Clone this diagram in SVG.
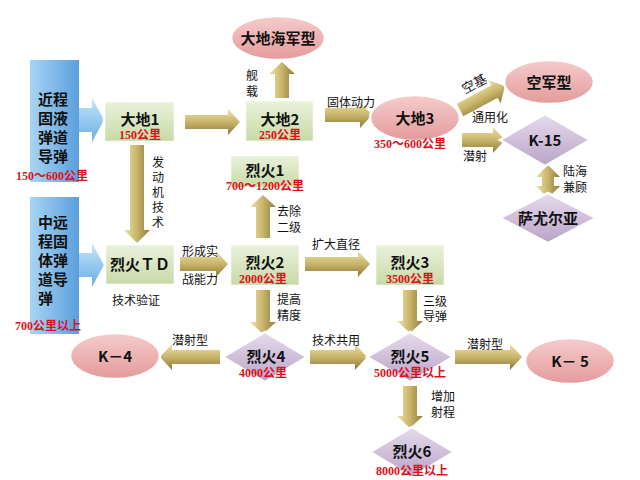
<svg xmlns="http://www.w3.org/2000/svg" width="640" height="480" viewBox="0 0 640 480">
<defs>
<linearGradient id="gh" x1="0" y1="0" x2="0" y2="1"><stop offset="0" stop-color="#ece3a8"/><stop offset="0.5" stop-color="#c9b46a"/><stop offset="1" stop-color="#8f7a3a"/></linearGradient>
<linearGradient id="gv" x1="0" y1="0" x2="1" y2="0"><stop offset="0" stop-color="#ece3a8"/><stop offset="0.5" stop-color="#c9b46a"/><stop offset="1" stop-color="#8f7a3a"/></linearGradient>
<linearGradient id="gb" x1="0" y1="0" x2="1" y2="0"><stop offset="0" stop-color="#a8d4f4"/><stop offset="1" stop-color="#5a9fdc"/></linearGradient>
<linearGradient id="gba" x1="0" y1="0" x2="0" y2="1"><stop offset="0" stop-color="#c4e4fa"/><stop offset="1" stop-color="#6aaee6"/></linearGradient>
<linearGradient id="gg" x1="0" y1="0" x2="0" y2="1"><stop offset="0" stop-color="#eaf2dc"/><stop offset="1" stop-color="#c7d9a6"/></linearGradient>
<linearGradient id="gp" x1="0" y1="0" x2="0" y2="1"><stop offset="0" stop-color="#f6cccc"/><stop offset="1" stop-color="#e49a9a"/></linearGradient>
<linearGradient id="gd" x1="0" y1="0" x2="0" y2="1"><stop offset="0" stop-color="#e6dcec"/><stop offset="1" stop-color="#b9a3c9"/></linearGradient>
</defs>
<style>
.ah{fill:url(#gh)} .av{fill:url(#gv)} .ab{fill:url(#gba)}
.box{fill:url(#gg);stroke:#ffffff;stroke-width:2.5}
.ell{fill:url(#gp);stroke:#ffffff;stroke-width:2.5}
.dia{fill:url(#gd);stroke:#ffffff;stroke-width:2.5}
.blue{fill:url(#gb)}
.t{font-family:"Noto Sans CJK SC","Liberation Sans",sans-serif;font-weight:bold;font-size:15px;fill:#111;text-anchor:middle}
.tb{font-family:"Noto Sans CJK SC","Liberation Sans",sans-serif;font-weight:bold;font-size:15px;fill:#111}
.r{font-family:"Liberation Serif","Noto Sans CJK SC",serif;font-weight:bold;font-size:12px;fill:#e0101a;text-anchor:middle}
.l{font-family:"Noto Sans CJK SC","Liberation Sans",sans-serif;font-size:12px;fill:#111}
</style>
<g id="connectors">
<polygon class="ab" points="79,108 92,108 92,98 104,120 92,142 92,132 79,132"/>
<polygon class="ab" points="79,253 92,253 92,243 104,265 92,287 92,277 79,277"/>
<polygon class="ah" points="185,115 228,115 228,109 240,122 228,135 228,129 185,129"/>
<polygon class="ah" points="325,108 360,108 360,102 372,115 360,128 360,122 325,122"/>
<polygon class="ah" points="462,133 493,133 493,127 505,140 493,153 493,147 462,147"/>
<polygon class="ah" transform="translate(460,110) rotate(-28)" points="0,-7 39,-7 39,-13 51,0 39,13 39,7 0,7"/>
<polygon class="av" points="275,98 275,74 269,74 282,62 295,74 289,74 289,98"/>
<polygon class="av" points="130,145 130,230 124,230 137,243 150,230 144,230 144,145"/>
<polygon class="av" points="256,238 256,207 250,207 263,195 276,207 270,207 270,238"/>
<polygon class="ah" points="180,257 216,257 216,251 228,264 216,277 216,271 180,271"/>
<polygon class="ah" points="305,257 358,257 358,251 370,264 358,277 358,271 305,271"/>
<polygon class="av" points="256,290 256,322 250,322 263,334 276,322 270,322 270,290"/>
<polygon class="av" points="403,290 403,321 397,321 410,333 423,321 417,321 417,290"/>
<polygon class="ah" points="220,350 172,350 172,344 160,357 172,370 172,364 220,364"/>
<polygon class="ah" points="310,350 355,350 355,344 367,357 355,370 355,364 310,364"/>
<polygon class="ah" points="455,350 510,350 510,344 522,357 510,370 510,364 455,364"/>
<polygon class="av" points="403,386 403,416 397,416 410,428 423,416 417,416 417,386"/>
<polygon class="av" points="548,165 560,177 554,177 554,186 560,186 548,198 536,186 542,186 542,177 536,177"/>
<text class="l" x="246" y="80">舰</text><text class="l" x="246" y="96">载</text>
<text class="l" x="152" y="167">发</text><text class="l" x="152" y="182">动</text><text class="l" x="152" y="197">机</text><text class="l" x="152" y="212">技</text><text class="l" x="152" y="227">术</text>
<text class="l" x="277" y="216">去除</text><text class="l" x="277" y="232">二级</text>
<text class="l" x="327" y="107">固体动力</text>
<text class="l" transform="translate(465,94) rotate(-28)" style="font-size:13px">空基</text>
<text class="l" x="472" y="122">通用化</text>
<text class="l" x="463" y="161">潜射</text>
<text class="l" x="563" y="176">陆海</text><text class="l" x="563" y="192">兼顾</text>
<text class="l" x="182" y="256">形成实</text><text class="l" x="182" y="284">战能力</text>
<text class="l" x="112" y="305">技术验证</text>
<text class="l" x="312" y="249">扩大直径</text>
<text class="l" x="277" y="304">提高</text><text class="l" x="277" y="320">精度</text>
<text class="l" x="423" y="306">三级</text><text class="l" x="423" y="321">导弹</text>
<text class="l" x="172" y="345">潜射型</text>
<text class="l" x="312" y="345">技术共用</text>
<text class="l" x="467" y="349">潜射型</text>
<text class="l" x="431" y="401">增加</text><text class="l" x="431" y="417">射程</text>
</g>
<g id="blue1"><rect class="blue" x="30" y="60" width="49" height="122"/>
<text class="tb" x="38" y="105">近程</text><text class="tb" x="38" y="124">固液</text><text class="tb" x="38" y="143">弹道</text><text class="tb" x="38" y="162">导弹</text>
<text class="r" x="52" y="180">150～600公里</text></g>
<g id="blue2"><rect class="blue" x="30" y="197" width="49" height="137"/>
<text class="tb" x="38" y="228">中远</text><text class="tb" x="38" y="247">程固</text><text class="tb" x="38" y="266">体弹</text><text class="tb" x="38" y="285">道导</text><text class="tb" x="38" y="304">弹</text>
<text class="r" x="48" y="330">700公里以上</text></g>
<g id="dadi1"><rect class="box" x="104" y="101" width="71" height="41"/><text class="t" x="140" y="125">大地1</text><text class="r" x="140" y="139">150公里</text></g>
<g id="dadi2"><rect class="box" x="245" y="100" width="69" height="42"/><text class="t" x="280" y="125">大地2</text><text class="r" x="280" y="139">250公里</text></g>
<g id="haijun"><ellipse class="ell" cx="278" cy="38" rx="47" ry="22"/><text class="t" x="278" y="44">大地海军型</text></g>
<g id="lieh1"><rect class="box" x="230" y="155" width="70" height="33"/><text class="t" x="265" y="176">烈火1</text><text class="r" x="265" y="190">700～1200公里</text></g>
<g id="dadi3"><ellipse class="ell" cx="415" cy="118" rx="45" ry="23"/><text class="t" x="415" y="124">大地3</text><text class="r" x="410" y="148">350～600公里</text></g>
<g id="kongjun"><ellipse class="ell" cx="549" cy="82" rx="45" ry="22"/><text class="t" x="549" y="88">空军型</text></g>
<g id="k15"><polygon class="dia" points="500,140 545,114 590,140 545,166"/><text class="t" x="545" y="146">K-15</text></g>
<g id="sayouerya"><polygon class="dia" points="500,218 548,193 596,218 548,243"/><text class="t" x="548" y="224">萨尤尔亚</text></g>
<g id="lietd"><rect class="box" x="105" y="244" width="70" height="41"/><text class="t" x="140" y="270">烈火ＴＤ</text></g>
<g id="lie2"><rect class="box" x="230" y="244" width="70" height="42"/><text class="t" x="265" y="268">烈火2</text><text class="r" x="263" y="283">2000公里</text></g>
<g id="lie3"><rect class="box" x="375" y="244" width="70" height="42"/><text class="t" x="410" y="268">烈火3</text><text class="r" x="410" y="283">3500公里</text></g>
<g id="lie4"><polygon class="dia" points="223,357 265,332 307,357 265,382"/><text class="t" x="266" y="362">烈火4</text><text class="r" x="263" y="377">4000公里</text></g>
<g id="k4"><ellipse class="ell" cx="115" cy="356" rx="45" ry="23"/><text class="t" x="115" y="362">K－4</text></g>
<g id="lie5"><polygon class="dia" points="367,357 410,332 453,357 410,382"/><text class="t" x="410" y="362">烈火5</text><text class="r" x="410" y="377">5000公里以上</text></g>
<g id="k5"><ellipse class="ell" cx="570" cy="361" rx="45" ry="23"/><text class="t" x="570" y="367">K－ 5</text></g>
<g id="lie6"><polygon class="dia" points="370,452 412,427 454,452 412,477"/><text class="t" x="412" y="457">烈火6</text><text class="r" x="412" y="475">8000公里以上</text></g>
</svg>
